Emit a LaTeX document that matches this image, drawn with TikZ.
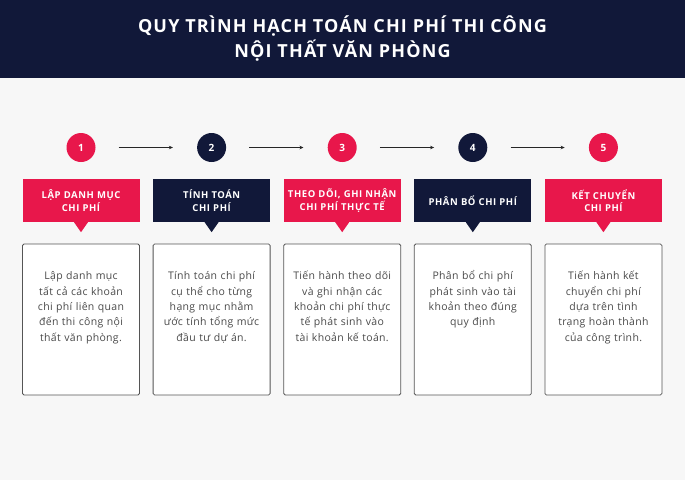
\documentclass[tikz,border=0pt]{standalone}
\usepackage{fontspec}
\setmainfont{Open Sans}
\usetikzlibrary{arrows.meta}
\definecolor{crim}{HTML}{E8174B}
\definecolor{navy}{HTML}{111839}
\definecolor{bg}{HTML}{F7F7F7}
\definecolor{txt}{HTML}{4A4A4A}
\definecolor{bord}{HTML}{555555}
\begin{document}
\begin{tikzpicture}[x=1pt,y=-1pt,
  num/.style={circle,minimum size=29pt,inner sep=0pt,text=white,font=\bfseries\fontsize{10}{12}\selectfont},
  lab/.style={minimum width=117pt,minimum height=43pt,inner sep=0pt,text width=115pt,align=center,text=white,font=\bfseries\fontsize{9.5}{12.3}\selectfont\addfontfeatures{LetterSpace=6}},
  card/.style={draw=bord,fill=white,line width=0.8pt,rounded corners=1.5pt,minimum width=117pt,minimum height=151pt,inner sep=0pt},
  body/.style={text width=112pt,align=center,text=txt,font=\fontsize{10.5}{15.3}\selectfont\addfontfeatures{LetterSpace=3},anchor=north,inner sep=0pt},
  flow/.style={-{Stealth[length=4pt,width=3.5pt]},line width=0.7pt,draw=black!85}]
\useasboundingbox (0,0) rectangle (685,480);
\fill[bg] (0,0) rectangle (685,480);
\fill[navy] (0,0) rectangle (685,78);
\node[text=white,font=\bfseries\fontsize{18}{25}\selectfont\addfontfeatures{LetterSpace=6.5},align=center,anchor=base] (title) at (342.5,57)
  {QUY TRÌNH HẠCH TOÁN CHI PHÍ THI CÔNG\\NỘI THẤT VĂN PHÒNG};

\foreach \i/\c/\t/\b in {
  1/crim/{LẬP DANH MỤC\\CHI PHÍ}/{Lập danh mục\\tất cả các khoản\\chi phí liên quan\\đến thi công nội\\thất văn phòng.},
  2/navy/{TÍNH TOÁN\\CHI PHÍ}/{Tính toán chi phí\\cụ thể cho từng\\hạng mục nhằm\\ước tính tổng mức\\đầu tư dự án.},
  3/crim/{THEO DÕI, GHI NHẬN\\CHI PHÍ THỰC TẾ}/{Tiến hành theo dõi\\và ghi nhận các\\khoản chi phí thực\\tế phát sinh vào\\tài khoản kế toán.},
  4/navy/{PHÂN BỔ CHI PHÍ}/{Phân bổ chi phí\\phát sinh vào tài\\khoản theo đúng\\quy định},
  5/crim/{KẾT CHUYỂN\\CHI PHÍ}/{Tiến hành kết\\chuyển chi phí\\dựa trên tình\\trạng hoàn thành\\của công trình.}}{
  \pgfmathsetmacro{\xx}{81+130.6*(\i-1)}
  \node[num,fill=\c] (n\i) at (\xx,147.5) {\i};
  \node[lab,fill=\c] (l\i) at (\xx,200.5) {\t};
  \fill[\c] ([xshift=-7pt]l\i.south) -- ([xshift=7pt]l\i.south) -- ([yshift=-10pt]l\i.south) -- cycle;
  \node[card] (k\i) at (\xx,319.5) {};
  \node[body] (b\i) at (\xx,269) {\strut\b};
}
\foreach \a/\b in {1/2,2/3,3/4,4/5}{
  \draw[flow] ([xshift=23pt]n\a.east) -- ([xshift=-24pt]n\b.west);
}
\end{tikzpicture}
\end{document}
